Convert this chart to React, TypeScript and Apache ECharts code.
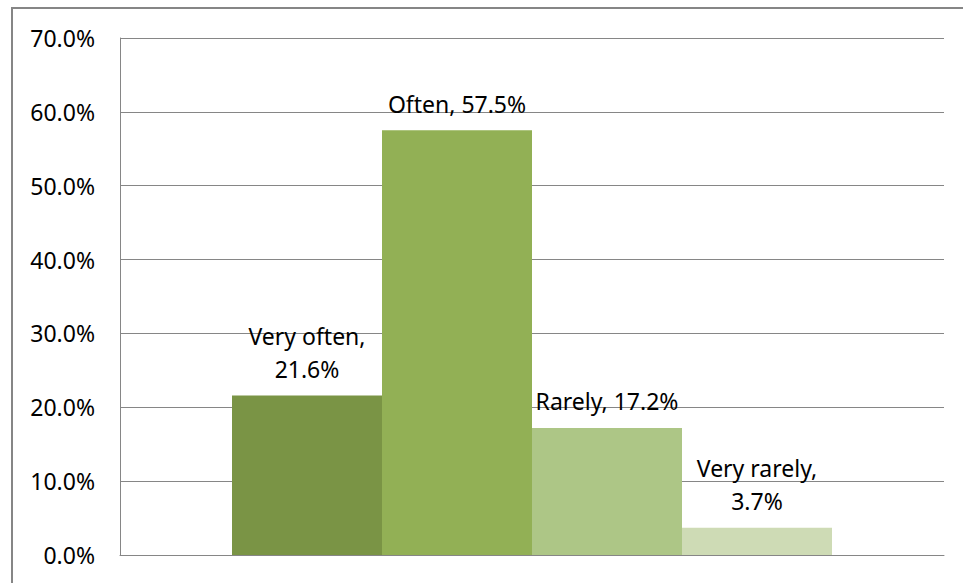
import React, { useEffect, useRef } from "react";
import * as echarts from "echarts";

const categories = ["Frequency"];
const seriesNames = ["Very often", "Often", "Rarely", "Very rarely"];
const seriesValues = [21.6, 57.5, 17.2, 3.7];
const seriesColors = ["#7A9445", "#92B055", "#ADC686", "#CEDBB5"];
const yTicks = [0, 10, 20, 30, 40, 50, 60, 70];

export default function App() {
  const ref = useRef<HTMLDivElement>(null);
  useEffect(() => {
    if (!ref.current) return;
    const chart = echarts.init(ref.current, undefined, { renderer: "svg" });
    const font = "'Noto Sans', sans-serif";
    chart.setOption({
      animation: false,
      backgroundColor: "#ffffff",
      graphic: [
        {
          type: "rect",
          shape: { x: 12, y: 8, width: 1000, height: 1000 },
          style: { fill: "none", stroke: "#868686", lineWidth: 2 },
          silent: true,
        },
      ],
      grid: { left: 120, top: 38, right: 19, bottom: 28, containLabel: false },
      xAxis: {
        type: "category",
        data: categories,
        axisLine: { show: true, lineStyle: { color: "#868686", width: 1 } },
        axisTick: { show: false },
        axisLabel: { show: false },
      },
      yAxis: {
        type: "value",
        min: yTicks[0],
        max: yTicks[yTicks.length - 1],
        interval: 10,
        axisLine: { show: true, lineStyle: { color: "#868686", width: 1 } },
        axisTick: { show: false },
        splitLine: { show: true, lineStyle: { color: "#868686", width: 1 } },
        axisLabel: {
          margin: 25,
          color: "#000",
          fontFamily: font,
          fontSize: 23,
          formatter: (v: number) => v.toFixed(1) + "%",
        },
      },
      series: seriesNames.map((name, i) => ({
        type: "bar",
        name,
        data: [seriesValues[i]],
        barWidth: 150,
        barGap: "0%",
        itemStyle: { color: seriesColors[i] },
        label: {
          show: true,
          position: "top",
          distance: 10,
          color: "#000",
          fontFamily: font,
          fontSize: 23,
          lineHeight: 33,
          formatter: (p: any) => {
            const sep = p.seriesName.indexOf(" ") >= 0 ? ",\n" : ", ";
            return p.seriesName + sep + p.value.toFixed(1) + "%";
          },
        },
      })),
    });
    return () => chart.dispose();
  }, []);
  return (
    <div
      ref={ref}
      style={{ position: "fixed", left: 0, top: 0, width: 963, height: 583 }}
    />
  );
}
